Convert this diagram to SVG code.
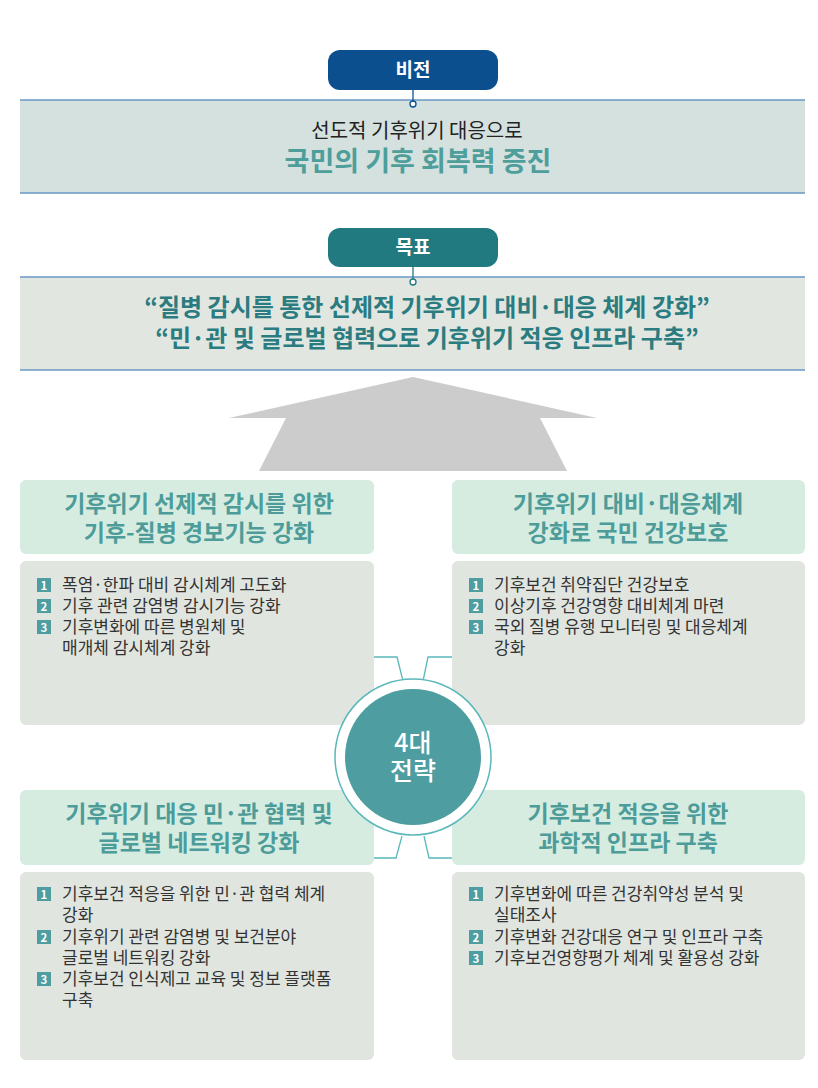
<svg xmlns="http://www.w3.org/2000/svg" width="818" height="1088" viewBox="0 0 818 1088">
<style>
text{font-family:"Noto Sans CJK KR","Noto Sans",sans-serif;}
.pill{font-size:19px;font-weight:bold;fill:#fff;text-anchor:middle;}
.hdr{fill:#d6ece1;}
.hdrt{font-size:23px;font-weight:bold;fill:#4d9c99;text-anchor:middle;}
.body{fill:#e1e5df;}
.bt{font-size:17px;fill:#333;}
.badge{fill:#4e9da0;}
.bn{font-size:11.5px;font-weight:bold;fill:#fff;text-anchor:middle;}
.conn{fill:none;stroke:#5ab8bb;stroke-width:1.3;}
.bline{stroke:#6a98c4;stroke-width:1.5;}
</style>
<rect width="818" height="1088" fill="#fff"/>

<g id="vision">
<rect x="20" y="100" width="785" height="93" fill="#d4e1df"/>
<line class="bline" x1="20" y1="100" x2="805" y2="100"/>
<line class="bline" x1="20" y1="193" x2="805" y2="193"/>
<line x1="413" y1="90" x2="413" y2="101" stroke="#0b4f8f" stroke-width="1.3"/>
<circle cx="413" cy="104" r="3" fill="#fff" stroke="#0b4f8f" stroke-width="1.3"/>
<rect x="328" y="50" width="170" height="40" rx="12" fill="#0b4f8f"/>
<text class="pill" x="413" y="77">비전</text>
<text x="417" y="138" font-size="20" fill="#222" text-anchor="middle">선도적 기후위기 대응으로</text>
<text x="418" y="171" font-size="27" font-weight="bold" fill="#4e9e9b" text-anchor="middle">국민의 기후 회복력 증진</text>
</g>

<g id="goal">
<rect x="20" y="277" width="785" height="93" fill="#e2e6e0"/>
<line class="bline" x1="20" y1="277" x2="805" y2="277"/>
<line class="bline" x1="20" y1="370" x2="805" y2="370"/>
<line x1="413" y1="267" x2="413" y2="279" stroke="#217a80" stroke-width="1.3"/>
<circle cx="413" cy="282" r="3" fill="#fff" stroke="#217a80" stroke-width="1.3"/>
<rect x="328" y="228" width="170" height="39" rx="12" fill="#217a80"/>
<text class="pill" x="413" y="254">목표</text>
<text x="427" y="316" font-size="24" font-weight="bold" fill="#2a7c80" text-anchor="middle">“질병 감시를 통한 선제적 기후위기 대비·대응 체계 강화”</text>
<text x="427" y="347" font-size="24" font-weight="bold" fill="#2a7c80" text-anchor="middle">“민·관 및 글로벌 협력으로 기후위기 적응 인프라 구축”</text>
</g>

<g id="arrow">
<polygon points="413,377 597,418 540,418 567,471 259,471 286,418 229,418" fill="#cccccc"/>
</g>

<g id="connectors">
<polyline class="conn" points="374,657 397,657 403,681"/>
<polyline class="conn" points="452,657 428,657 423,681"/>
<polyline class="conn" points="374,858 396,858 402,836"/>
<polyline class="conn" points="452,858 429,858 424,836"/>
</g>

<g id="s1">
<rect class="hdr" x="20" y="480" width="354" height="74" rx="6"/>
<text class="hdrt" x="199" y="512">기후위기 선제적 감시를 위한</text>
<text class="hdrt" x="199" y="541">기후-질병 경보기능 강화</text>
<rect class="body" x="20" y="561" width="354" height="164" rx="6"/>
<rect class="badge" x="37" y="578" width="14" height="14"/><text class="bn" x="44" y="589.5">1</text>
<rect class="badge" x="37" y="599" width="14" height="14"/><text class="bn" x="44" y="610.5">2</text>
<rect class="badge" x="37" y="620" width="14" height="14"/><text class="bn" x="44" y="631.5">3</text>
<text class="bt" x="62" y="591">폭염·한파 대비 감시체계 고도화</text>
<text class="bt" x="62" y="612">기후 관련 감염병 감시기능 강화</text>
<text class="bt" x="62" y="633">기후변화에 따른 병원체 및</text>
<text class="bt" x="62" y="654">매개체 감시체계  강화</text>
</g>

<g id="s2">
<rect class="hdr" x="452" y="480" width="353" height="74" rx="6"/>
<text class="hdrt" x="628" y="512">기후위기 대비·대응체계</text>
<text class="hdrt" x="628" y="541">강화로 국민 건강보호</text>
<rect class="body" x="452" y="561" width="353" height="164" rx="6"/>
<rect class="badge" x="469" y="578" width="14" height="14"/><text class="bn" x="476" y="589.5">1</text>
<rect class="badge" x="469" y="599" width="14" height="14"/><text class="bn" x="476" y="610.5">2</text>
<rect class="badge" x="469" y="620" width="14" height="14"/><text class="bn" x="476" y="631.5">3</text>
<text class="bt" x="494" y="591">기후보건 취약집단 건강보호</text>
<text class="bt" x="494" y="612">이상기후 건강영향 대비체계 마련</text>
<text class="bt" x="494" y="633">국외 질병 유행 모니터링 및 대응체계</text>
<text class="bt" x="494" y="654">강화</text>
</g>

<g id="s3">
<rect class="hdr" x="20" y="790" width="354" height="75" rx="6"/>
<text class="hdrt" x="199" y="822">기후위기 대응 민·관 협력 및</text>
<text class="hdrt" x="199" y="851">글로벌 네트워킹 강화</text>
<rect class="body" x="20" y="872" width="354" height="188" rx="6"/>
<rect class="badge" x="37" y="887" width="14" height="14"/><text class="bn" x="44" y="898.5">1</text>
<rect class="badge" x="37" y="930" width="14" height="14"/><text class="bn" x="44" y="941.5">2</text>
<rect class="badge" x="37" y="972" width="14" height="14"/><text class="bn" x="44" y="983.5">3</text>
<text class="bt" x="62" y="900">기후보건 적응을 위한 민·관 협력 체계</text>
<text class="bt" x="62" y="921">강화</text>
<text class="bt" x="62" y="943">기후위기 관련 감염병 및 보건분야</text>
<text class="bt" x="62" y="964">글로벌 네트워킹 강화</text>
<text class="bt" x="62" y="985">기후보건 인식제고 교육 및 정보 플랫폼</text>
<text class="bt" x="62" y="1006">구축</text>
</g>

<g id="s4">
<rect class="hdr" x="452" y="790" width="353" height="75" rx="6"/>
<text class="hdrt" x="628" y="822">기후보건 적응을 위한</text>
<text class="hdrt" x="628" y="851">과학적 인프라 구축</text>
<rect class="body" x="452" y="872" width="353" height="188" rx="6"/>
<rect class="badge" x="469" y="887" width="14" height="14"/><text class="bn" x="476" y="898.5">1</text>
<rect class="badge" x="469" y="930" width="14" height="14"/><text class="bn" x="476" y="941.5">2</text>
<rect class="badge" x="469" y="951" width="14" height="14"/><text class="bn" x="476" y="962.5">3</text>
<text class="bt" x="494" y="900">기후변화에 따른 건강취약성 분석 및</text>
<text class="bt" x="494" y="921">실태조사</text>
<text class="bt" x="494" y="943">기후변화 건강대응 연구 및 인프라 구축</text>
<text class="bt" x="494" y="964">기후보건영향평가 체계 및 활용성 강화</text>
</g>

<g id="center">
<circle cx="413" cy="757" r="78" fill="#fff" stroke="#5ab8bb" stroke-width="1.5"/>
<circle cx="413" cy="757" r="68" fill="#4e9da0"/>
<text x="413" y="752" font-size="25" font-weight="500" fill="#fff" text-anchor="middle">4대</text>
<text x="413" y="780" font-size="25" font-weight="500" fill="#fff" text-anchor="middle">전략</text>
</g>
</svg>
